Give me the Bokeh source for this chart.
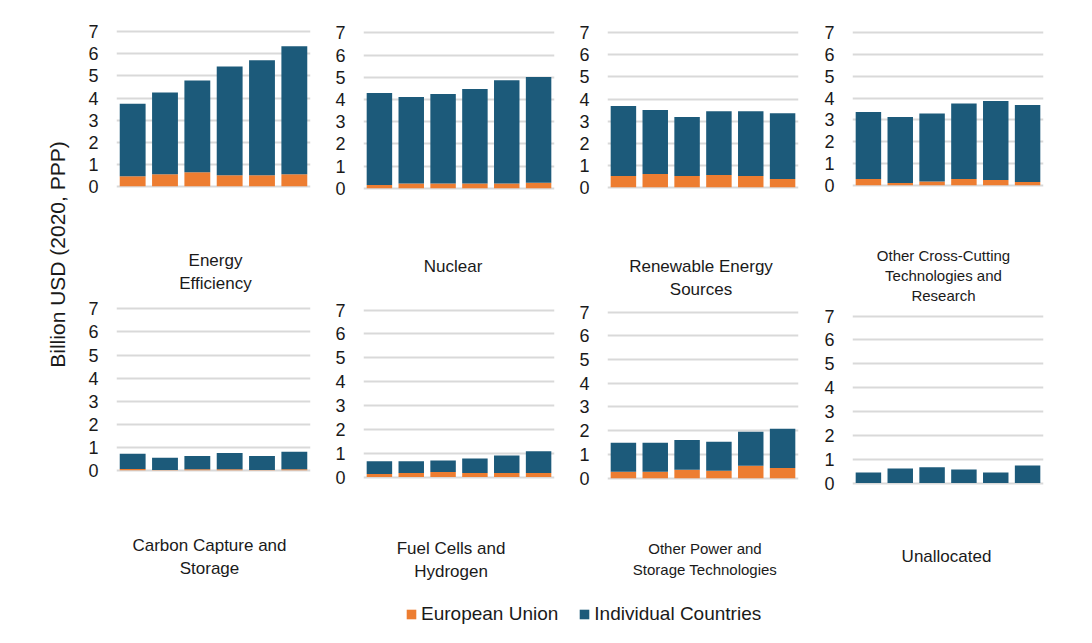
import math
from bokeh.plotting import figure
from bokeh.models import ColumnDataSource, FactorRange, FixedTicker, Label, Legend, LegendItem, Range1d
from bokeh.layouts import row, column
from bokeh.embed import file_html
from bokeh.resources import INLINE

# ---------------- data ----------------
years = ["2015", "2016", "2017", "2018", "2019", "2020"]
series = ["European Union", "Individual Countries"]

titles = [
    "Energy\nEfficiency",
    "Nuclear",
    "Renewable Energy\nSources",
    "Other Cross-Cutting\nTechnologies and\nResearch",
    "Carbon Capture and\nStorage",
    "Fuel Cells and\nHydrogen",
    "Other Power and\nStorage Technologies",
    "Unallocated",
]

eu_energy_efficiency = [0.46, 0.55, 0.64, 0.50, 0.50, 0.55]
ind_energy_efficiency = [3.28, 3.70, 4.15, 4.93, 5.21, 5.80]

eu_nuclear = [0.15, 0.21, 0.21, 0.21, 0.21, 0.25]
ind_nuclear = [4.14, 3.90, 4.03, 4.26, 4.66, 4.76]

eu_renewables = [0.51, 0.60, 0.51, 0.56, 0.51, 0.38]
ind_renewables = [3.17, 2.90, 2.67, 2.89, 2.94, 2.98]

eu_cross_cutting = [0.29, 0.11, 0.18, 0.29, 0.24, 0.15]
ind_cross_cutting = [3.07, 3.02, 3.12, 3.47, 3.63, 3.53]

eu_ccs = [0.05, 0.01, 0.04, 0.04, 0.01, 0.04]
ind_ccs = [0.66, 0.53, 0.58, 0.71, 0.61, 0.76]

eu_fuel_cells = [0.13, 0.17, 0.21, 0.17, 0.17, 0.17]
ind_fuel_cells = [0.53, 0.49, 0.49, 0.61, 0.74, 0.91]

eu_power_storage = [0.27, 0.27, 0.35, 0.31, 0.52, 0.43]
ind_power_storage = [1.22, 1.22, 1.26, 1.22, 1.43, 1.65]

eu_unallocated = [0.00, 0.00, 0.00, 0.00, 0.00, 0.00]
ind_unallocated = [0.45, 0.61, 0.66, 0.57, 0.45, 0.74]

y_ticks = [0, 1, 2, 3, 4, 5, 6, 7]
y_label = "Billion USD (2020, PPP)"

# ---------------- style ----------------
ORANGE = "#ED7D31"
BLUE = "#1C5A7A"
GRID = "#D9D9D9"
TEXT = "#1A1A1A"
FONT = "Liberation Sans"
Y_START, Y_END = -0.1, 7.15


def blank(width, height, bl=0, br=0, xr=None, yr=None):
    f = figure(width=width, height=height,
               x_range=xr if xr is not None else Range1d(0, width),
               y_range=yr if yr is not None else Range1d(0, height),
               min_border=0, min_border_left=bl, min_border_right=br,
               toolbar_location=None, tools="", output_backend="svg")
    f.axis.visible = False
    f.grid.visible = False
    f.outline_line_color = None
    return f


def panel(eu, ind, width, bl, br, bt, fh, bb=10):
    src = ColumnDataSource(dict(year=years, eu=eu, ind=ind))
    p = figure(x_range=FactorRange(*years), y_range=Range1d(Y_START, Y_END),
               width=width, height=bt + fh + bb,
               min_border_left=bl, min_border_right=br,
               min_border_top=bt, min_border_bottom=bb,
               toolbar_location=None, tools="", output_backend="svg")
    p.vbar_stack(["eu", "ind"], x="year", width=0.8, color=[ORANGE, BLUE],
                 line_color=None, source=src)
    p.xaxis.visible = False
    p.xgrid.visible = False
    p.ygrid.grid_line_color = GRID
    p.ygrid.grid_line_width = 2
    ax = p.yaxis[0]
    ax.ticker = FixedTicker(ticks=y_ticks)
    ax.axis_line_color = None
    ax.major_tick_line_color = None
    ax.minor_tick_line_color = None
    ax.major_tick_out = 0
    ax.major_tick_in = 0
    ax.major_label_standoff = 18
    ax.major_label_text_font = FONT
    ax.major_label_text_font_size = "18px"
    ax.major_label_text_color = TEXT
    p.outline_line_color = None
    return p


def title_box(text, col_left, width, bl, br, top, bottom, cx, cy, fs=17, lh=1.18):
    # ranges expressed in page pixels so the label sits at (cx, cy) on the page
    f = blank(width, bottom - top, bl, br,
              xr=Range1d(col_left + bl, col_left + width - br),
              yr=Range1d(bottom, top))
    f.add_layout(Label(x=cx, y=cy, text=text, text_align="center", text_baseline="middle",
                       text_font=FONT, text_font_size=f"{fs}px", text_color=TEXT,
                       text_line_height=lh))
    return f


# column 1 (page x 70..332)
C1, W1, L1, R1 = 70, 262, 46, 22
p1 = panel(eu_energy_efficiency, ind_energy_efficiency, W1, L1, R1, 28, 160)
t1 = title_box(titles[0], C1, W1, L1, R1, 198, 296, 215, 271.5)
p5 = panel(eu_ccs, ind_ccs, W1, L1, R1, 9, 167)
t5 = title_box(titles[4], C1, W1, L1, R1, 482, 598, 209, 556.5)

# column 2 (page x 332..576)
C2, W2, L2, R2 = 332, 244, 30, 22
p2 = panel(eu_nuclear, ind_nuclear, W2, L2, R2, 29, 161)
t2 = title_box(titles[1], C2, W2, L2, R2, 200, 298, 452, 266)
p6 = panel(eu_fuel_cells, ind_fuel_cells, W2, L2, R2, 8, 173)
t6 = title_box(titles[5], C2, W2, L2, R2, 489, 598, 450, 559.5)

# column 3 (page x 576..820)
C3, W3, L3, R3 = 576, 244, 30, 22
p3 = panel(eu_renewables, ind_renewables, W3, L3, R3, 29, 160)
t3 = title_box(titles[2], C3, W3, L3, R3, 199, 300, 700, 277.5)
p7 = panel(eu_power_storage, ind_power_storage, W3, L3, R3, 8, 172)
t7 = title_box(titles[6], C3, W3, L3, R3, 490, 598, 704, 558.5, fs=15, lh=1.22)

# column 4 (page x 820..1084)
C4, W4, L4, R4 = 820, 264, 32, 41
p4 = panel(eu_cross_cutting, ind_cross_cutting, W4, L4, R4, 29, 158)
t4 = title_box(titles[3], C4, W4, L4, R4, 197, 305, 943, 275, fs=15, lh=1.15)
p8 = panel(eu_unallocated, ind_unallocated, W4, L4, R4, 7, 173)
t8 = title_box(titles[7], C4, W4, L4, R4, 495, 598, 946, 556)

# y-axis label column
lab = blank(70, 598)
lab.add_layout(Label(x=57, y=344, text=y_label, angle=math.pi / 2,
                     text_align="center", text_baseline="middle",
                     text_font=FONT, text_font_size="21px", text_color=TEXT))

# legend strip
leg = blank(1084, 37)
r_eu = leg.vbar(x=[5000], top=[5000], width=1, color=ORANGE, line_color=None)
r_ind = leg.vbar(x=[5000], top=[5000], width=1, color=BLUE, line_color=None)
legend = Legend(items=[LegendItem(label=series[0], renderers=[r_eu]),
                       LegendItem(label=series[1], renderers=[r_ind])],
                orientation="horizontal", location=(405, 10),
                glyph_width=12, glyph_height=12, label_standoff=4, spacing=20,
                padding=0, margin=0, border_line_color=None, background_fill_alpha=0,
                label_text_font=FONT, label_text_font_size="19px", label_text_color=TEXT)
leg.add_layout(legend, "center")

layout = column(
    row(lab,
        column(p1, t1, p5, t5),
        column(p2, t2, p6, t6),
        column(p3, t3, p7, t7),
        column(p4, t4, p8, t8)),
    leg,
)

open("out.html", "w").write(file_html(layout, INLINE))
